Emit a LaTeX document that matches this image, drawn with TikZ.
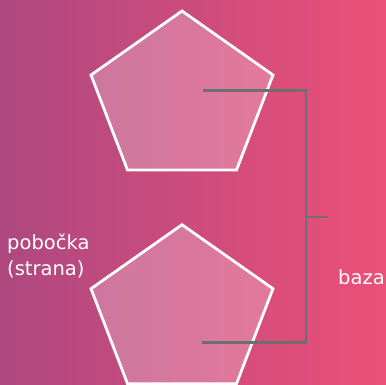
\documentclass[tikz,border=0pt]{standalone}
\usepackage{fontspec}
\setmainfont{DejaVu Sans}
\definecolor{bgleft}{RGB}{174,72,128}
\definecolor{bgright}{RGB}{236,80,120}
\definecolor{brackgray}{RGB}{110,110,110}
\begin{document}
\begin{tikzpicture}[x=1pt,y=-1pt, every node/.style={font=\fontsize{19.5}{26}\selectfont,text=white,inner sep=0pt},
  face/.style={draw=white,line width=2.8pt,fill=white,fill opacity=0.25},
  brack/.style={draw=brackgray,line width=2.6pt}]
\shade[left color=bgleft,right color=bgright] (0,0) rectangle (386,384);
\useasboundingbox (0,0) rectangle (386,384);
% upper pentagon
\draw[face] (182,11) -- (273,75) -- (236.5,170) -- (127.5,170) -- (91,75) -- cycle;
% lower pentagon
\draw[face] (182,224.7) -- (273,288.7) -- (236.5,383.7) -- (127.5,383.7) -- (91,288.7) -- cycle;
\coordinate (upc) at (203,90.3);
\coordinate (lowc) at (202,342.7);
\coordinate (joint) at (306,217);
\coordinate (tip) at (328,217);
\draw[brack] (upc) -| (joint) |- (lowc);
\draw[brack] (joint) -- (tip);
\node[anchor=west,align=left] (side) at (7,256) {pobočka\\(strana)};
\node[anchor=base west] (base) at (338,284) {baza};
\end{tikzpicture}
\end{document}
